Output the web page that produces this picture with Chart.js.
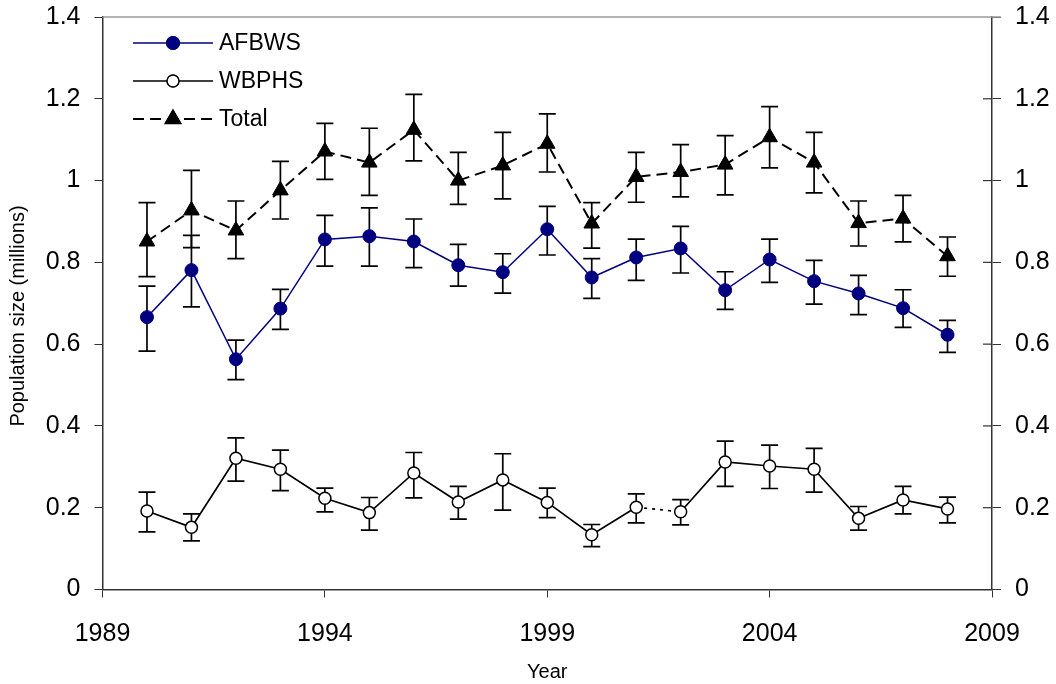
<!DOCTYPE html>
<html>
<head>
<meta charset="utf-8">
<script src="https://cdn.jsdelivr.net/npm/chart.js@4.4.1/dist/chart.umd.min.js"></script>
<style>
  html, body { margin: 0; padding: 0; background: #fff; }
  #wrap { width: 1056px; height: 684px; }
</style>
</head>
<body>
<div id="wrap"><canvas id="chart" width="1056" height="684"></canvas></div>
<script>
// Survey years
const years = [1990, 1991, 1992, 1993, 1994, 1995, 1996, 1997, 1998, 1999,
               2000, 2001, 2002, 2003, 2004, 2005, 2006, 2007, 2008];

// AFBWS estimates and error bar limits (millions)
const afbws     = [0.666, 0.781, 0.563, 0.687, 0.856, 0.864, 0.851, 0.793, 0.776, 0.881,
                   0.763, 0.812, 0.834, 0.732, 0.807, 0.754, 0.724, 0.688, 0.623];
const afbwsHigh = [0.742, 0.866, 0.610, 0.734, 0.915, 0.933, 0.906, 0.844, 0.821, 0.937,
                   0.809, 0.857, 0.888, 0.777, 0.857, 0.805, 0.768, 0.733, 0.658];
const afbwsLow  = [0.583, 0.691, 0.513, 0.636, 0.791, 0.791, 0.787, 0.742, 0.725, 0.818,
                   0.712, 0.756, 0.774, 0.685, 0.751, 0.698, 0.672, 0.641, 0.580];

// WBPHS estimates and error bar limits
const wbphs     = [0.192, 0.152, 0.321, 0.294, 0.223, 0.188, 0.285, 0.214, 0.268, 0.213,
                   0.134, 0.201, 0.190, 0.312, 0.302, 0.294, 0.174, 0.219, 0.197];
const wbphsHigh = [0.238, 0.185, 0.371, 0.341, 0.248, 0.225, 0.335, 0.252, 0.332, 0.248,
                   0.159, 0.234, 0.220, 0.363, 0.353, 0.345, 0.203, 0.252, 0.226];
const wbphsLow  = [0.141, 0.119, 0.265, 0.242, 0.190, 0.145, 0.224, 0.172, 0.194, 0.176,
                   0.105, 0.163, 0.158, 0.252, 0.247, 0.238, 0.145, 0.185, 0.163];

// Total estimates and error bar limits
const total     = [0.851, 0.927, 0.878, 0.976, 1.071, 1.044, 1.124, 1.000, 1.037, 1.090,
                   0.895, 1.009, 1.021, 1.039, 1.106, 1.044, 0.896, 0.907, 0.815];
const totalHigh = [0.946, 1.025, 0.950, 1.047, 1.140, 1.128, 1.211, 1.069, 1.118, 1.163,
                   0.946, 1.069, 1.088, 1.110, 1.181, 1.118, 0.950, 0.964, 0.862];
const totalLow  = [0.765, 0.836, 0.809, 0.906, 1.003, 0.964, 1.048, 0.942, 0.955, 1.021,
                   0.835, 0.947, 0.960, 0.965, 1.031, 0.970, 0.840, 0.850, 0.766];

const seriesNames = ['AFBWS', 'WBPHS', 'Total'];
const yTicks = [0, 0.2, 0.4, 0.6, 0.8, 1, 1.2, 1.4];
const xTicks = [1989, 1994, 1999, 2004, 2009];
const yTitle = 'Population size (millions)';

const FONT = '"Liberation Sans", Arial, sans-serif';
const NAVY = '#000080';

function points(vals) {
    return years.map((y, i) => ({ x: y, y: vals[i] }));
}

const errorBars = [
    { high: afbwsHigh, low: afbwsLow },
    { high: wbphsHigh, low: wbphsLow },
    { high: totalHigh, low: totalLow }
];

// error bars behind the markers, frame, inner right ticks and legend on top
const extras = {
    id: 'extras',
    beforeDatasetsDraw(chart) {
        const ctx = chart.ctx;
        const xs = chart.scales.x, ys = chart.scales.y;
        ctx.save();
        ctx.strokeStyle = '#000';
        ctx.lineWidth = 1.7;
        errorBars.forEach(eb => {
            years.forEach((yr, i) => {
                const px = xs.getPixelForValue(yr);
                const top = ys.getPixelForValue(eb.high[i]);
                const bot = ys.getPixelForValue(eb.low[i]);
                ctx.beginPath();
                ctx.moveTo(px, top); ctx.lineTo(px, bot);
                ctx.moveTo(px - 8.5, top); ctx.lineTo(px + 8.5, top);
                ctx.moveTo(px - 8.5, bot); ctx.lineTo(px + 8.5, bot);
                ctx.stroke();
            });
        });
        ctx.restore();
    },
    afterDraw(chart) {
        const ctx = chart.ctx;
        const a = chart.chartArea;
        ctx.save();
        // top frame line
        ctx.strokeStyle = '#999';
        ctx.lineWidth = 1.5;
        ctx.beginPath();
        ctx.moveTo(a.left, a.top); ctx.lineTo(a.right + 9, a.top);
        ctx.stroke();
        // inner tick marks on right axis
        ctx.strokeStyle = '#333';
        ctx.lineWidth = 1.2;
        yTicks.slice(1, -1).forEach(v => {
            const py = chart.scales.y2.getPixelForValue(v);
            ctx.beginPath();
            ctx.moveTo(a.right - 9, py); ctx.lineTo(a.right, py);
            ctx.stroke();
        });

        // y axis title, sits a little below the middle of the plot
        ctx.save();
        ctx.translate(18, 316);
        ctx.rotate(-Math.PI / 2);
        ctx.font = '20px ' + FONT;
        ctx.fillStyle = '#000';
        ctx.textAlign = 'center';
        ctx.textBaseline = 'middle';
        ctx.fillText(yTitle, 0, 0);
        ctx.restore();

        // legend
        const rows = [43, 81, 119];
        const x0 = 133, x1 = 213, xm = 173, xt = 219;
        ctx.font = '23px ' + FONT;
        ctx.textBaseline = 'middle';
        ctx.fillStyle = '#000';
        seriesNames.forEach((name, i) => {
            const y = rows[i];
            const ds = chart.data.datasets[i];
            ctx.save();
            ctx.strokeStyle = ds.borderColor;
            ctx.lineWidth = ds.borderWidth;
            ctx.setLineDash(ds.borderDash || []);
            ctx.beginPath();
            ctx.moveTo(x0, y); ctx.lineTo(x1, y);
            ctx.stroke();
            ctx.restore();
            Chart.helpers.drawPoint(ctx, {
                pointStyle: ds.pointStyle,
                radius: ds.pointRadius,
                borderWidth: ds.pointBorderWidth
            }, xm, y);
            ctx.fillStyle = ds.pointBackgroundColor;
            ctx.strokeStyle = ds.pointBorderColor;
            ctx.lineWidth = ds.pointBorderWidth;
            ctx.fill();
            ctx.stroke();
            ctx.fillStyle = '#000';
            ctx.fillText(name, xt, y + 1);
        });
        ctx.restore();
    }
};

// fixed box sizes so the plot area lands where the original has it
function fitY(width) {
    return s => {
        s.width = width;
        s.paddingTop = 0;
        s.paddingBottom = 0;
    };
}

new Chart(document.getElementById('chart').getContext('2d'), {
    type: 'line',
    data: {
        datasets: [
            {
                label: seriesNames[0],
                data: points(afbws),
                borderColor: NAVY,
                borderWidth: 1.5,
                pointStyle: 'circle',
                pointRadius: 6.5,
                pointBackgroundColor: NAVY,
                pointBorderColor: NAVY,
                pointBorderWidth: 1
            },
            {
                label: seriesNames[1],
                data: points(wbphs),
                borderColor: '#000',
                borderWidth: 1.7,
                pointStyle: 'circle',
                pointRadius: 6,
                pointBackgroundColor: '#fff',
                pointBorderColor: '#000',
                pointBorderWidth: 1.5,
                segment: {
                    borderDash: c => c.p0.parsed.x === 2001 ? [3, 5] : undefined
                }
            },
            {
                label: seriesNames[2],
                data: points(total),
                borderColor: '#000',
                borderWidth: 2,
                borderDash: [11, 6],
                pointStyle: 'triangle',
                pointRadius: 9,
                pointBackgroundColor: '#000',
                pointBorderColor: '#000',
                pointBorderWidth: 1
            }
        ]
    },
    options: {
        responsive: false,
        animation: false,
        layout: { padding: { top: 17, left: 0, right: 0, bottom: 0 } },
        plugins: {
            legend: { display: false },
            tooltip: { enabled: false }
        },
        elements: { line: { tension: 0 } },
        scales: {
            x: {
                type: 'linear',
                min: 1989,
                max: 2009,
                afterBuildTicks: s => { s.ticks = xTicks.map(v => ({ value: v })); },
                afterFit: s => { s.height = 94.5; s.paddingLeft = 0; s.paddingRight = 0; },
                border: { display: true, color: '#333', width: 1.5 },
                grid: { drawOnChartArea: false, drawTicks: true, tickLength: 8, color: '#333' },
                ticks: {
                    font: { family: FONT, size: 25 },
                    color: '#000',
                    padding: 22,
                    maxRotation: 0,
                    callback: v => String(v)
                },
                title: {
                    display: true,
                    text: 'Year',
                    font: { family: FONT, size: 20 },
                    color: '#000',
                    padding: { top: 0, bottom: 0 }
                }
            },
            y: {
                position: 'left',
                min: 0,
                max: 1.4,
                afterBuildTicks: s => { s.ticks = yTicks.map(v => ({ value: v })); },
                afterFit: fitY(102.5),
                border: { display: true, color: '#333', width: 1.5 },
                grid: { drawOnChartArea: false, drawTicks: true, tickLength: 8, color: '#333' },
                ticks: {
                    font: { family: FONT, size: 25 },
                    color: '#000',
                    padding: 14,
                    callback: v => String(v)
                }
            },
            y2: {
                position: 'right',
                min: 0,
                max: 1.4,
                afterBuildTicks: s => { s.ticks = yTicks.map(v => ({ value: v })); },
                afterFit: fitY(64),
                border: { display: true, color: '#333', width: 1.5 },
                grid: { drawOnChartArea: false, drawTicks: true, tickLength: 9, color: '#333' },
                ticks: {
                    font: { family: FONT, size: 25 },
                    color: '#000',
                    padding: 14,
                    callback: v => String(v)
                }
            }
        }
    },
    plugins: [extras]
});
</script>
</body>
</html>
